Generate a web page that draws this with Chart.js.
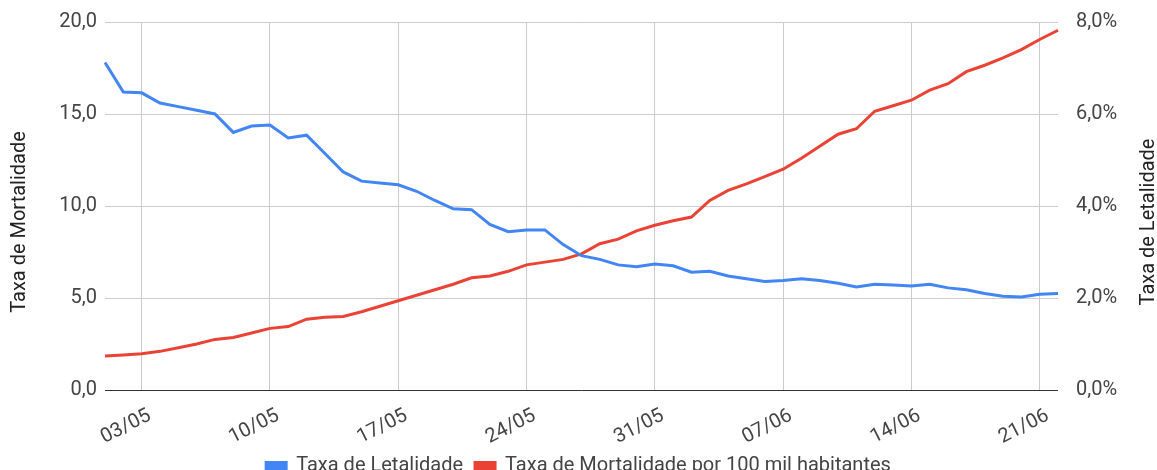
<!DOCTYPE html>
<html>
<head>
<meta charset="utf-8">
<script src="https://cdn.jsdelivr.net/npm/chart.js@4"></script>
<style>
  html, body { margin: 0; padding: 0; background: #fff; }
  #wrap { width: 1157px; height: 470px; }
</style>
</head>
<body>
<div id="wrap"><canvas id="chart"></canvas></div>
<script>
// datas de 01/05 a 22/06
let dias = [
  '01/05','02/05','03/05','04/05','05/05','06/05','07/05','08/05','09/05','10/05',
  '11/05','12/05','13/05','14/05','15/05','16/05','17/05','18/05','19/05','20/05',
  '21/05','22/05','23/05','24/05','25/05','26/05','27/05','28/05','29/05','30/05',
  '31/05','01/06','02/06','03/06','04/06','05/06','06/06','07/06','08/06','09/06',
  '10/06','11/06','12/06','13/06','14/06','15/06','16/06','17/06','18/06','19/06',
  '20/06','21/06','22/06'
];
let diasComRotulo = ['03/05','10/05','17/05','24/05','31/05','07/06','14/06','21/06'];

// taxa de letalidade (%)
let letalidade = [
  7.12, 6.48, 6.46, 6.24, 6.16, 6.08, 6.00, 5.60, 5.74, 5.76,
  5.48, 5.54, 5.14, 4.74, 4.54, 4.50, 4.46, 4.32, 4.12, 3.94,
  3.92, 3.60, 3.44, 3.48, 3.48, 3.16, 2.92, 2.84, 2.72, 2.68,
  2.74, 2.70, 2.56, 2.58, 2.48, 2.42, 2.36, 2.38, 2.42, 2.38,
  2.32, 2.24, 2.30, 2.28, 2.26, 2.30, 2.22, 2.18, 2.10, 2.04,
  2.02, 2.08, 2.10
];

// taxa de mortalidade por 100 mil habitantes
let mortalidade = [
  1.85, 1.90, 1.97, 2.10, 2.30, 2.50, 2.75, 2.85, 3.10, 3.35,
  3.45, 3.85, 3.95, 4.00, 4.25, 4.55, 4.85, 5.15, 5.45, 5.75,
  6.10, 6.20, 6.45, 6.80, 6.95, 7.10, 7.40, 7.95, 8.20, 8.65,
  8.95, 9.20, 9.40, 10.30, 10.85, 11.20, 11.60, 12.00, 12.60, 13.25,
  13.90, 14.20, 15.15, 15.45, 15.75, 16.30, 16.65, 17.30, 17.65, 18.05,
  18.50, 19.05, 19.55
];

let fonte = { family: 'Roboto', size: 20 };
let corTexto = '#444444';

// titulos dos eixos, os dois lidos de baixo para cima
let titulosEixos = {
  id: 'titulosEixos',
  afterDraw: function(chart) {
    let c = chart.ctx;
    c.save();
    c.font = '20px Roboto';
    c.fillStyle = '#222222';
    c.textAlign = 'center';
    c.textBaseline = 'middle';
    [[20, 'Taxa de Mortalidade'], [1149, 'Taxa de Letalidade']].forEach(function(t) {
      c.save();
      c.translate(t[0], 222);
      c.rotate(-Math.PI / 2);
      c.fillText(t[1], 0, 0);
      c.restore();
    });
    c.restore();
  }
};

let ctx = document.getElementById('chart').getContext('2d');

let chart = new Chart(ctx, {
  type: 'line',
  data: {
    labels: dias,
    datasets: [{
      label: 'Taxa de Letalidade',
      data: letalidade,
      yAxisID: 'y1',
      borderColor: '#4285F4',
      backgroundColor: '#4285F4',
      borderWidth: 3,
      pointRadius: 0,
      tension: 0
    }, {
      label: 'Taxa de Mortalidade por 100 mil habitantes',
      data: mortalidade,
      yAxisID: 'y',
      borderColor: '#EA4335',
      backgroundColor: '#EA4335',
      borderWidth: 3,
      pointRadius: 0,
      tension: 0
    }]
  },
  plugins: [titulosEixos],
  options: {
    responsive: true,
    maintainAspectRatio: false,
    animation: false,
    layout: { padding: { left: 0, right: 0, top: 22, bottom: -16 } },
    plugins: {
      tooltip: { enabled: false },
      legend: {
        position: 'bottom',
        labels: {
          font: fonte,
          color: corTexto,
          boxWidth: 20,
          boxHeight: 7,
          padding: 12
        }
      }
    },
    scales: {
      x: {
        offset: false,
        afterFit: function(s) { s.height = 54; },
        grid: {
          color: '#cccccc',
          drawTicks: false
        },
        border: { display: false },
        ticks: {
          autoSkip: false,
          maxRotation: 27,
          minRotation: 27,
          padding: 14,
          labelOffset: 8,
          font: fonte,
          color: corTexto,
          callback: function(v, i) {
            let d = dias[i];
            return diasComRotulo.includes(d) ? d : null;
          }
        }
      },
      y: {
        position: 'left',
        min: 0,
        max: 20,
        afterFit: function(s) { s.width = 105; },
        grid: {
          color: function(c) { return c.tick.value === 0 ? '#333333' : '#cccccc'; },
          drawTicks: false
        },
        border: { display: false },
        ticks: {
          stepSize: 5,
          padding: 8,
          font: fonte,
          color: corTexto,
          callback: function(v) { return v.toFixed(1).replace('.', ','); }
        }
      },
      y1: {
        position: 'right',
        min: 0,
        max: 8,
        afterFit: function(s) { s.width = 99; },
        grid: { display: false },
        border: { display: false },
        ticks: {
          stepSize: 2,
          padding: 10,
          font: fonte,
          color: corTexto,
          callback: function(v) { return v.toFixed(1).replace('.', ',') + '%'; }
        }
      }
    }
  }
});
</script>
</body>
</html>
